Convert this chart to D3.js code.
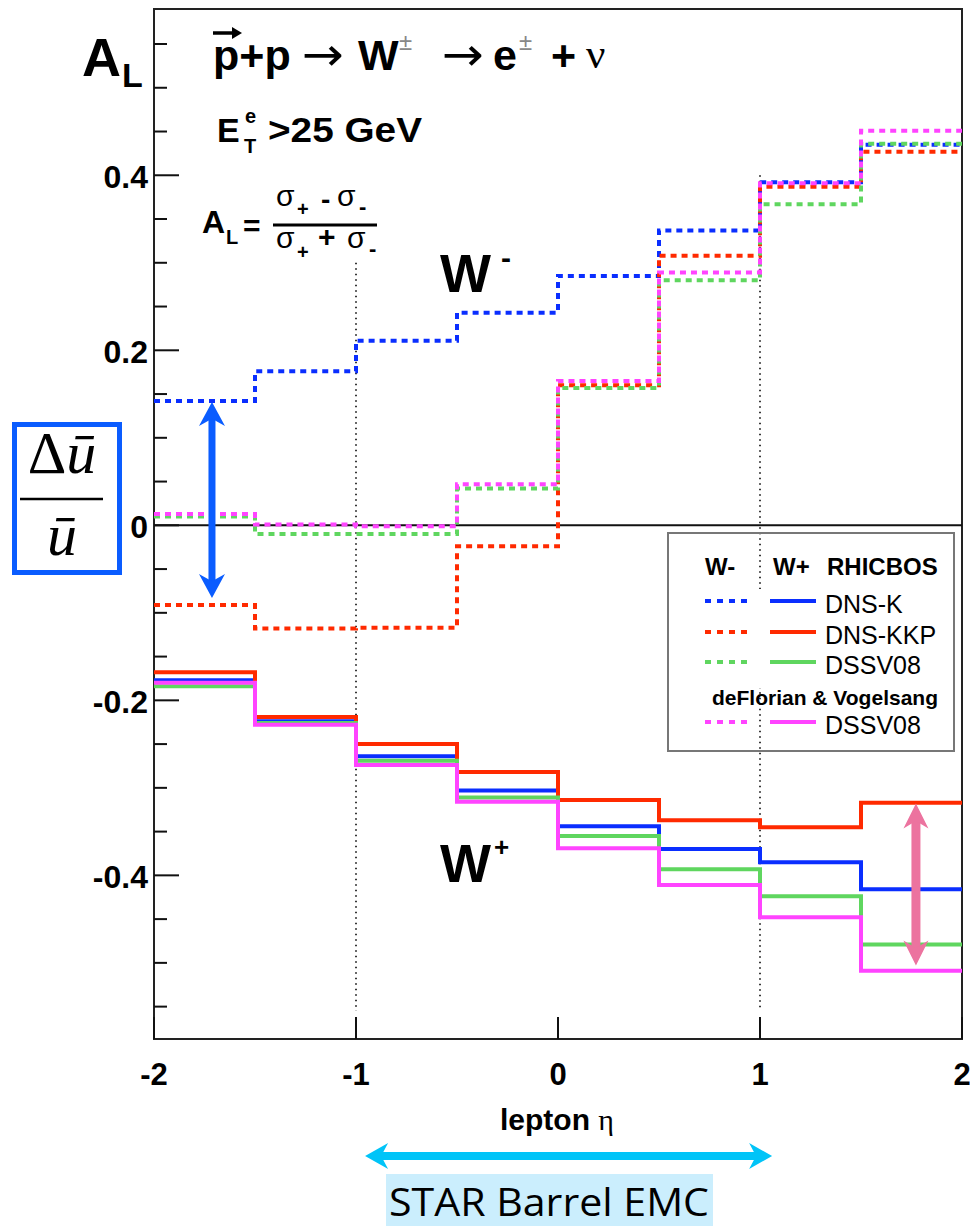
<!DOCTYPE html>
<html>
<head>
<meta charset="utf-8">
<script src="https://cdn.jsdelivr.net/npm/d3@7"></script>
<style>
  body { margin: 0; background: #fff; }
  svg { display: block; }
</style>
</head>
<body>
<script>
// bin edges in lepton eta
const etaEdges = [-2, -1.5, -1, -0.5, 0, 0.5, 1, 1.5, 2];

// W- predictions (dotted), one value per eta bin
const wMinusDnsK   = [0.142, 0.176, 0.211, 0.243, 0.285, 0.337, 0.392, 0.435];
const wMinusDnsKkp = [-0.091, -0.118, -0.117, -0.024, 0.160, 0.308, 0.387, 0.427];
const wMinusDssv   = [0.010, -0.010, -0.010, 0.042, 0.157, 0.280, 0.367, 0.436];
const wMinusDv     = [0.013, 0.001, -0.001, 0.047, 0.165, 0.289, 0.391, 0.451];

// W+ predictions (solid)
const wPlusDnsK   = [-0.177, -0.224, -0.264, -0.303, -0.344, -0.370, -0.385, -0.416];
const wPlusDnsKkp = [-0.168, -0.219, -0.250, -0.282, -0.314, -0.337, -0.345, -0.317];
const wPlusDssv   = [-0.184, -0.226, -0.269, -0.311, -0.355, -0.393, -0.424, -0.479];
const wPlusDv     = [-0.180, -0.228, -0.274, -0.316, -0.369, -0.411, -0.448, -0.509];

const seriesNames  = ["DNS-K", "DNS-KKP", "DSSV08", "DSSV08"];
const seriesColors = ["#0a2eff", "#ff2a00", "#5fd65f", "#ff44ff"];
const legendHeader = ["W-", "W+", "RHICBOS"];
const legendGroup  = "deFlorian & Vogelsang";

const xTicks = [-2, -1, 0, 1, 2];
const xTickLabels = ["-2", "-1", "0", "1", "2"];
const yTicks = [-0.4, -0.2, 0, 0.2, 0.4];
const yTickLabels = ["-0.4", "-0.2", "0", "0.2", "0.4"];
const yMinor = [-0.55, -0.5, -0.45, -0.35, -0.3, -0.25, -0.15, -0.1, -0.05,
                0.05, 0.1, 0.15, 0.25, 0.3, 0.35, 0.45, 0.5, 0.55];

// dotted guide lines at the barrel edges
const guideEta = [-1, 1];
const guideTop = [0.3, 0.4];
const guideBottom = -0.555;

// annotation arrows: [eta, from, to]
const blueArrow = [-1.713, 0.141, -0.083];
const pinkArrow = [1.772, -0.318, -0.503];
const emcRange = [-0.955, 1.06];

const width = 970, height = 1226;
const font = "'Liberation Sans', Arial, sans-serif";

const svg = d3.select("body").append("svg")
  .attr("width", width)
  .attr("height", height)
  .style("font-family", font);

const x = d3.scaleLinear().domain([-2, 2]).range([154, 962]);
const y = d3.scaleLinear().domain([-0.587, 0.59]).range([1039, 9]);

const step = d3.line()
  .x(d => x(d[0]))
  .y(d => y(d[1]))
  .curve(d3.curveStepAfter);

const toPoints = (vals) => {
  let pts = vals.map((v, i) => [etaEdges[i], v]);
  pts.push([etaEdges[etaEdges.length - 1], vals[vals.length - 1]]);
  return pts;
};

// frame
svg.append("rect")
  .attr("x", x(-2)).attr("y", y(0.59))
  .attr("width", x(2) - x(-2)).attr("height", y(-0.587) - y(0.59))
  .attr("fill", "none").attr("stroke", "#222").attr("stroke-width", 2);

// y ticks
svg.selectAll(".ymaj").data(yTicks).enter().append("line")
  .attr("x1", x(-2)).attr("x2", x(-2) + 25)
  .attr("y1", d => y(d)).attr("y2", d => y(d))
  .attr("stroke", "#111").attr("stroke-width", 2);
svg.selectAll(".ymin").data(yMinor).enter().append("line")
  .attr("x1", x(-2)).attr("x2", x(-2) + 13)
  .attr("y1", d => y(d)).attr("y2", d => y(d))
  .attr("stroke", "#111").attr("stroke-width", 2);
svg.selectAll(".ylab").data(yTicks).enter().append("text")
  .attr("x", x(-2) - 6).attr("y", d => y(d) + 13)
  .attr("text-anchor", "end")
  .attr("font-size", 32).attr("font-weight", "bold")
  .text((d, i) => yTickLabels[i]);

// x ticks
svg.selectAll(".xmaj").data(xTicks).enter().append("line")
  .attr("x1", d => x(d)).attr("x2", d => x(d))
  .attr("y1", y(-0.587)).attr("y2", y(-0.587) - 22)
  .attr("stroke", "#111").attr("stroke-width", 2);
svg.selectAll(".xlab").data(xTicks).enter().append("text")
  .attr("x", d => x(d)).attr("y", 1085)
  .attr("text-anchor", "middle")
  .attr("font-size", 31).attr("font-weight", "bold")
  .text((d, i) => xTickLabels[i]);

let xl = svg.append("text").attr("x", 500).attr("y", 1130).attr("font-size", 30);
xl.append("tspan").attr("font-weight", "bold").text("lepton ");
xl.append("tspan").attr("font-family", "'Liberation Serif', serif").text("η");

// zero line
svg.append("line")
  .attr("x1", x(-2)).attr("x2", x(2))
  .attr("y1", y(0)).attr("y2", y(0))
  .attr("stroke", "#111").attr("stroke-width", 2);

// guide lines
svg.selectAll(".guide").data(guideEta).enter().append("line")
  .attr("x1", d => x(d)).attr("x2", d => x(d))
  .attr("y1", (d, i) => y(guideTop[i])).attr("y2", y(guideBottom))
  .attr("stroke", "#222").attr("stroke-width", 1.8)
  .attr("stroke-dasharray", "1.5,4");

// legend box
const leg = svg.append("g");
leg.append("rect").attr("x", 668).attr("y", 533).attr("width", 286).attr("height", 218)
  .attr("fill", "none").attr("stroke", "#777").attr("stroke-width", 2);
leg.append("rect").attr("x", 700).attr("y", 589).attr("width", 250).attr("height", 99)
  .attr("fill", "#fff");

// curves
const wMinus = [wMinusDnsK, wMinusDnsKkp, wMinusDssv, wMinusDv];
const wPlus = [wPlusDnsK, wPlusDnsKkp, wPlusDssv, wPlusDv];

svg.selectAll(".wminus").data(wMinus).enter().append("path")
  .attr("d", d => step(toPoints(d)))
  .attr("fill", "none")
  .attr("stroke", (d, i) => seriesColors[i])
  .attr("stroke-width", 4)
  .attr("stroke-dasharray", "6,5");

svg.selectAll(".wplus").data(wPlus).enter().append("path")
  .attr("d", d => step(toPoints(d)))
  .attr("fill", "none")
  .attr("stroke", (d, i) => seriesColors[i])
  .attr("stroke-width", 4);

// legend contents
const hdrX = [705, 773, 827];
leg.selectAll(".hdr").data(legendHeader).enter().append("text")
  .attr("x", (d, i) => hdrX[i]).attr("y", 575)
  .attr("font-size", 24).attr("font-weight", "bold")
  .text(d => d);
const rowY = [601, 632, 662, 722];
seriesNames.forEach((name, i) => {
  leg.append("line").attr("x1", 705).attr("x2", 747)
    .attr("y1", rowY[i]).attr("y2", rowY[i])
    .attr("stroke", seriesColors[i]).attr("stroke-width", 4)
    .attr("stroke-dasharray", "6,6");
  leg.append("line").attr("x1", 770).attr("x2", 816)
    .attr("y1", rowY[i]).attr("y2", rowY[i])
    .attr("stroke", seriesColors[i]).attr("stroke-width", 4);
  leg.append("text").attr("x", 825).attr("y", rowY[i] + 12)
    .attr("font-size", 25).text(name);
});
leg.append("text").attr("x", 712).attr("y", 705)
  .attr("font-size", 21).attr("font-weight", "bold").text(legendGroup);

// header texts
let al = svg.append("text").attr("x", 82).attr("y", 76).attr("font-weight", "bold");
al.append("tspan").attr("font-size", 54).text("A");
al.append("tspan").attr("x", 122).attr("y", 87).attr("font-size", 34).text("L");

const arrowFont = "'DejaVu Sans', sans-serif";
const title = svg.append("g").attr("font-weight", "bold").attr("font-size", 43);
title.append("text").attr("x", 213).attr("y", 70).text("p+p");
title.append("path").attr("d", "M213,33 L234,33").attr("stroke", "#000").attr("stroke-width", 3.5);
title.append("path").attr("d", "M232,27 L242,33 L232,39 Z").attr("fill", "#000");
title.append("text").attr("x", 302).attr("y", 70).attr("font-weight", "normal")
  .attr("font-family", arrowFont).attr("font-size", 46)
  .attr("textLength", 42).attr("lengthAdjust", "spacingAndGlyphs").text("→");
title.append("text").attr("x", 358).attr("y", 70).text("W");
title.append("text").attr("x", 399).attr("y", 50).attr("font-size", 24).attr("font-weight", "normal").attr("fill", "#888").text("±");
title.append("text").attr("x", 442).attr("y", 70).attr("font-weight", "normal")
  .attr("font-family", arrowFont).attr("font-size", 46)
  .attr("textLength", 42).attr("lengthAdjust", "spacingAndGlyphs").text("→");
title.append("text").attr("x", 493).attr("y", 70).text("e");
title.append("text").attr("x", 519).attr("y", 50).attr("font-size", 24).attr("font-weight", "normal").attr("fill", "#888").text("±");
title.append("text").attr("x", 551).attr("y", 70).text("+");
title.append("text").attr("x", 586).attr("y", 68).attr("font-weight", "normal")
  .attr("font-family", "'Liberation Serif', serif").text("ν");

const et = svg.append("g").attr("font-weight", "bold");
et.append("text").attr("x", 217).attr("y", 142).attr("font-size", 34).text("E");
et.append("text").attr("x", 245).attr("y", 123).attr("font-size", 20).text("e");
et.append("text").attr("x", 244).attr("y", 153).attr("font-size", 20).text("T");
et.append("text").attr("x", 268).attr("y", 142).attr("font-size", 35)
  .attr("textLength", 154).attr("lengthAdjust", "spacingAndGlyphs").text(">25 GeV");

const fr = svg.append("g").attr("font-weight", "bold");
fr.append("text").attr("x", 202).attr("y", 233).attr("font-size", 32).text("A");
fr.append("text").attr("x", 226).attr("y", 244).attr("font-size", 20).text("L");
fr.append("text").attr("x", 243).attr("y", 236).attr("font-size", 30).text("=");
fr.append("line").attr("x1", 273).attr("x2", 377).attr("y1", 225).attr("y2", 225)
  .attr("stroke", "#000").attr("stroke-width", 3);
const sig = (xx, yy) => fr.append("text").attr("x", xx).attr("y", yy)
  .attr("font-size", 30).attr("font-weight", "normal").text("σ");
sig(276, 206); sig(337, 206); sig(276, 248); sig(347, 248);
fr.append("text").attr("x", 297).attr("y", 216).attr("font-size", 20).text("+");
fr.append("text").attr("x", 321).attr("y", 209).attr("font-size", 28).text("-");
fr.append("text").attr("x", 359).attr("y", 214).attr("font-size", 22).text("-");
fr.append("text").attr("x", 297).attr("y", 259).attr("font-size", 20).text("+");
fr.append("text").attr("x", 318).attr("y", 247).attr("font-size", 30).text("+");
fr.append("text").attr("x", 369).attr("y", 256).attr("font-size", 22).text("-");

// W labels
let wm = svg.append("text").attr("x", 440).attr("y", 292).attr("font-weight", "bold");
wm.append("tspan").attr("font-size", 54).text("W");
wm.append("tspan").attr("x", 501).attr("y", 268).attr("font-size", 30).text("-");
let wp = svg.append("text").attr("x", 440).attr("y", 882).attr("font-weight", "bold");
wp.append("tspan").attr("font-size", 54).text("W");
wp.append("tspan").attr("x", 494).attr("y", 856).attr("font-size", 26).text("+");

// arrows
const head = (tx, ty, dx, dy, w, l) => {
  // tip at (tx,ty); (dx,dy) points from tip back along the shaft
  const bx = tx + dx * l, by = ty + dy * l;
  const nx = tx + dx * l * 0.7, ny = ty + dy * l * 0.7;
  const px = -dy * w / 2, py = dx * w / 2;
  return `M${tx},${ty} L${bx + px},${by + py} L${nx},${ny} L${bx - px},${by - py} Z`;
};

const vArrow = (a, color, sw, hw, hl) => {
  const ax = x(a[0]), y1 = y(a[1]), y2 = y(a[2]);
  svg.append("line").attr("x1", ax).attr("x2", ax)
    .attr("y1", y1 + hl * 0.6).attr("y2", y2 - hl * 0.6)
    .attr("stroke", color).attr("stroke-width", sw);
  svg.append("path").attr("d", head(ax, y1, 0, 1, hw, hl)).attr("fill", color);
  svg.append("path").attr("d", head(ax, y2, 0, -1, hw, hl)).attr("fill", color);
};
vArrow(blueArrow, "#0a5cff", 7, 26, 24);
vArrow(pinkArrow, "#ec739f", 9, 25, 25);

// EMC acceptance arrow
const ex1 = x(emcRange[0]), ex2 = x(emcRange[1]), ey = 1156;
svg.append("line").attr("x1", ex1 + 14).attr("x2", ex2 - 14)
  .attr("y1", ey).attr("y2", ey)
  .attr("stroke", "#00c4f8").attr("stroke-width", 8);
svg.append("path").attr("d", head(ex1, ey, 1, 0, 26, 23)).attr("fill", "#00c4f8");
svg.append("path").attr("d", head(ex2, ey, -1, 0, 26, 23)).attr("fill", "#00c4f8");

svg.append("rect").attr("x", 386).attr("y", 1174).attr("width", 327).attr("height", 52)
  .attr("fill", "#cbeefd");
svg.append("text").attr("x", 389).attr("y", 1216)
  .attr("font-family", "'Open Sans', sans-serif").attr("font-size", 38)
  .attr("textLength", 320).attr("lengthAdjust", "spacingAndGlyphs")
  .text("STAR Barrel EMC");

// delta ubar / ubar box
svg.append("rect").attr("x", 14.5).attr("y", 424.5).attr("width", 105).attr("height", 148)
  .attr("fill", "none").attr("stroke", "#0a5cff").attr("stroke-width", 5);
const serif = "'Liberation Serif', 'Times New Roman', serif";
let num = svg.append("text").attr("x", 62).attr("y", 473)
  .attr("text-anchor", "middle").attr("font-family", serif).attr("font-size", 60);
num.append("tspan").text("Δ");
num.append("tspan").attr("font-style", "italic").text("ū");
svg.append("line").attr("x1", 20).attr("x2", 103).attr("y1", 499).attr("y2", 499)
  .attr("stroke", "#000").attr("stroke-width", 2.5);
svg.append("text").attr("x", 62).attr("y", 555)
  .attr("text-anchor", "middle").attr("font-family", serif).attr("font-size", 60)
  .attr("font-style", "italic").text("ū");
</script>
</body>
</html>
